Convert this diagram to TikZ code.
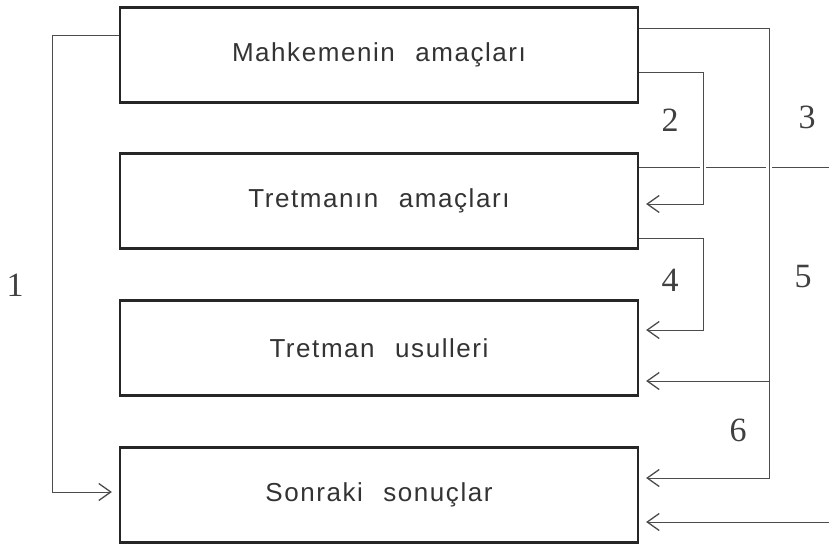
\documentclass[tikz,border=0pt]{standalone}
\usepackage{fontspec}
\setmainfont{Liberation Serif}
\newfontfamily\boxfont{Liberation Sans}[LetterSpace=6]
\usetikzlibrary{arrows.meta,backgrounds}
\begin{document}
\begin{tikzpicture}[x=1pt,y=-1pt,
  box/.style={draw=black!85, line width=2.2pt, minimum width=518pt, minimum height=95pt,
    inner sep=0pt, text=black!80, font=\boxfont\fontsize{26}{30}\selectfont},
  conn/.style={draw=black!70, line width=0.9pt},
  halo/.style={preaction={draw=white, line width=6pt, -, shorten >=0pt}},
  arr/.style={-{Straight Barb[length=12pt,width=17pt,line width=1.3pt]}, shorten >=7pt},
  num/.style={font=\fontsize{34}{36}\selectfont, text=black!75}]
\useasboundingbox (0,0) rectangle (829,546);

\node[box] (b1) at (379,55)  {Mahkemenin\hspace{0.45em} amaçları};
\node[box] (b2) at (379,201) {Tretmanın\hspace{0.45em} amaçları};
\node[box] (b3) at (379,348) {Tretman\hspace{0.45em} usulleri};
\node[box] (b4) at (379,495) {Sonraki\hspace{0.45em} sonuçlar};

\node[num] (n1) at (15,285)  {1};
\node[num] (n2) at (670,120) {2};
\node[num] (n3) at (807,117) {3};
\node[num] (n4) at (670,280) {4};
\node[num] (n5) at (803,277) {5};
\node[num] (n6) at (738,430) {6};

\coordinate (a1) at (769,28);
\coordinate (a2) at (769,478);
\coordinate (a5) at (769,381);
\coordinate (p1) at (703,72);
\coordinate (p2) at (703,204);
\coordinate (c1) at (703,238);
\coordinate (c2) at (703,330);
\coordinate (dR) at (829,167);
\coordinate (eR) at (829,522);
\coordinate (f1) at (52,35);
\coordinate (f2) at (52,492);

\begin{scope}[on background layer]
\draw[conn] (b2.east |- dR) -- (dR);
\draw[conn, halo, arr] (b1.east |- a1) -- (a1) -- (a2) -- (b4.east |- a2);
\draw[conn, halo, arr] (b1.east |- p1) -- (p1) -- (p2) -- (b2.east |- p2);
\draw[conn, arr] (b2.east |- c1) -- (c1) -- (c2) -- (b3.east |- c2);
\draw[conn, arr] (a5) -- (b3.east |- a5);
\draw[conn, arr] (eR) -- (b4.east |- eR);
\draw[conn, arr] (b1.west |- f1) -- (f1) -- (f2) -- (b4.west |- f2);
\end{scope}
\end{tikzpicture}
\end{document}
